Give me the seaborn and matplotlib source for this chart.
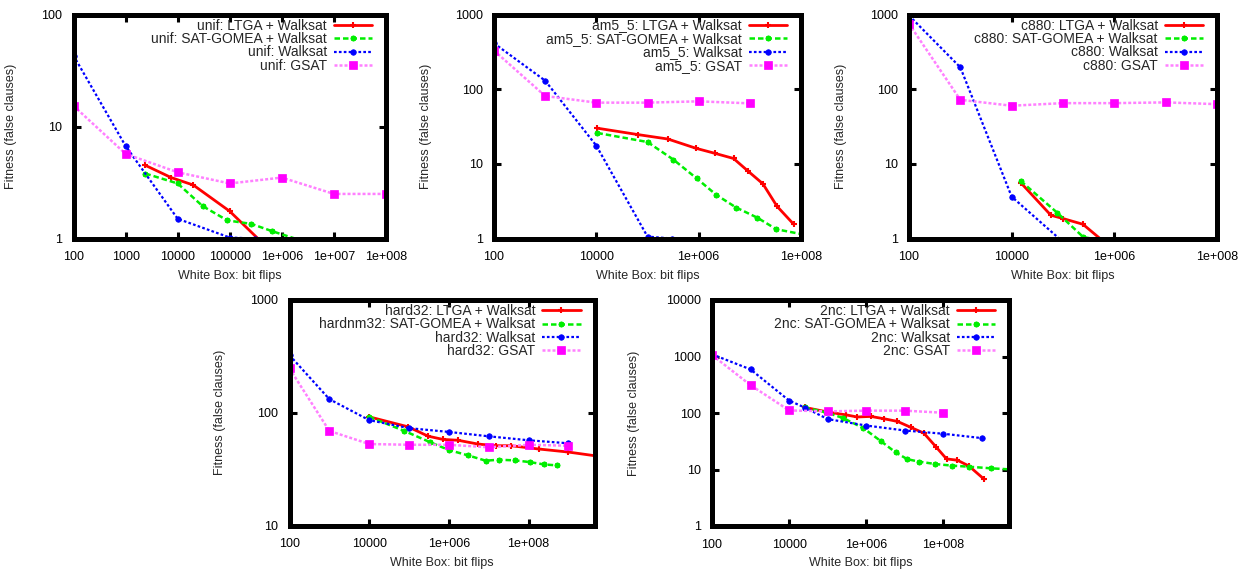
import matplotlib
matplotlib.use("Agg")
import matplotlib.pyplot as plt
import seaborn as sns
import pandas as pd
from matplotlib.ticker import FixedLocator, FixedFormatter, NullLocator

sns.set_style("white")
plt.rcParams['font.family'] = ['Liberation Sans', 'DejaVu Sans']
plt.rcParams['font.size'] = 9

# ---------------- data ----------------
# unif
unif_ltga_x = [2400, 7500, 20000, 100000, 1000000]
unif_ltga_y = [4.5, 3.5, 3.0, 1.75, 0.62]
unif_gomea_x = [2400, 10000, 30000, 90000, 260000, 660000, 2500000]
unif_gomea_y = [3.8, 3.1, 1.95, 1.45, 1.35, 1.16, 0.95]
unif_walksat_x = [100, 1000, 10000, 100000, 300000, 1000000]
unif_walksat_y = [43, 6.7, 1.5, 1.02, 1.0, 0.5]
unif_gsat_x = [100, 1000, 10000, 100000, 1e6, 1e7, 1e8]
unif_gsat_y = [15.3, 5.7, 3.9, 3.1, 3.5, 2.5, 2.5]

# am5_5
am_ltga_x = [10500, 66000, 250000, 900000, 2.1e6, 4.8e6, 9.4e6, 1.8e7, 3.4e7, 7.2e7]
am_ltga_y = [30, 24.6, 21.5, 16.1, 13.8, 11.8, 7.9, 5.4, 2.7, 1.55]
am_gomea_x = [10500, 1e5, 3.2e5, 9.1e5, 2.2e6, 5.4e6, 1.4e7, 3.3e7, 1.2e8]
am_gomea_y = [25.9, 19.6, 11.4, 6.4, 3.85, 2.6, 1.9, 1.33, 1.12]
am_walksat_x = [100, 1000, 1e4, 1e5, 3e5, 1e6]
am_walksat_y = [412, 130, 17.5, 1.06, 1.0, 0.5]
am_gsat_x = [100, 1000, 1e4, 1e5, 1e6, 1e7]
am_gsat_y = [329, 81, 66, 66, 68.7, 64.6]

# c880
c_ltga_x = [1.5e4, 5.8e4, 1e5, 2.45e5, 1e6]
c_ltga_y = [5.6, 2.05, 1.85, 1.55, 0.69]
c_gomea_x = [1.5e4, 7.8e4, 2.5e5, 1e6]
c_gomea_y = [5.9, 2.2, 1.04, 0.9]
c_walksat_x = [100, 1000, 1e4, 1e5]
c_walksat_y = [970, 196, 3.63, 0.9]
c_gsat_x = [100, 1000, 1e4, 1e5, 1e6, 1e7, 1e8]
c_gsat_y = [750, 72, 60, 65, 65, 66.5, 63]

# hard32
h_ltga_x = [1e4, 9.5e4, 3e5, 7.1e5, 1.7e6, 5.3e6, 1.5e7, 3.6e7, 1.8e8, 1e9, 1e10]
h_ltga_y = [92, 75, 62, 58, 57, 52.8, 51, 51, 47.7, 44.8, 40]
h_gomea_x = [1e4, 7.6e4, 3.3e5, 1e6, 3e6, 8.3e6, 1.85e7, 4.6e7, 1.07e8, 2.45e8, 5.3e8]
h_gomea_y = [92, 69, 55, 46.7, 41.9, 37.6, 38.3, 37.8, 36.5, 34.8, 34.1]
h_walksat_x = [100, 1000, 1e4, 1e5, 1e6, 1e7, 1e8, 1e9]
h_walksat_y = [324, 132, 86, 73, 67.6, 61.8, 57, 53.6]
h_gsat_x = [100, 1000, 1e4, 1e5, 1e6, 1e7, 1e8, 1e9]
h_gsat_y = [247, 69, 52.8, 52, 52, 49.4, 52, 51]

# 2nc
n_ltga_x = [2.5e4, 1.07e5, 2.9e5, 5.8e5, 1.3e6, 2.9e6, 6.4e6, 1.4e7, 3.1e7, 6.3e7,
            1.2e8, 2.3e8, 4.6e8, 1.14e9]
n_ltga_y = [126, 103, 93, 85, 87, 79, 71, 56, 44, 25.5, 15.4, 14.6, 11.5, 6.7]
n_gomea_x = [2.5e4, 8.8e4, 2.5e5, 8.4e5, 2.35e6, 5.8e6, 1.16e7, 2.3e7, 6.1e7, 1.7e8,
             4.6e8, 1.7e9, 6e9]
n_gomea_y = [126, 103, 81.5, 54, 32, 20, 15.2, 13.8, 12.5, 11.7, 11.2, 10.5, 10]
n_walksat_x = [100, 1000, 1e4, 2.65e4, 1e5, 1e6, 1e7, 1e8, 1e9]
n_walksat_y = [1094, 591, 166, 123, 78, 60, 49, 42.9, 35.9]
n_gsat_x = [100, 1000, 1e4, 1e5, 1e6, 1e7, 1e8]
n_gsat_y = [1063, 311, 111, 107, 110, 110, 101]

xticks_dense = [100, 1000, 10000, 100000, 1e6, 1e7, 1e8]
xlabels_dense = ["100", "1000", "10000", "100000", "1e+006", "1e+007", "1e+008"]
xticks_sparse = [100, 1e4, 1e6, 1e8]
xlabels_sparse = ["100", "10000", "1e+006", "1e+008"]
yticks_all = [1, 10, 100, 1000, 10000]
ylabels_all = ["1", "10", "100", "1000", "10000"]

# ---------------- styling ----------------
STYLES = {
    "ltga": dict(color="#ff0000", linestyle="-", linewidth=2.0, marker="+",
                 markersize=5, markeredgewidth=1.5, markeredgecolor="#ff0000"),
    "gomea": dict(color="#00ee00", linestyle=(0, (2.2, 1.2)), linewidth=1.8,
                  marker=(8, 2, 0), markersize=4, markeredgewidth=1.3,
                  markeredgecolor="#00ee00"),
    "walksat": dict(color="#0000ff", linestyle=(0, (1.2, 1.0)), linewidth=1.6,
                    marker="o", markersize=4, markeredgewidth=0.5,
                    markeredgecolor="#0000ff", markerfacecolor="#0000ff"),
    "gsat": dict(color="#ff80ff", linestyle=(0, (1.2, 0.8)), linewidth=1.8,
                 marker="s", markersize=6, markeredgewidth=0.5,
                 markeredgecolor="#ff00ff", markerfacecolor="#ff00ff"),
}

W, H = 1250, 571
fig = plt.figure(figsize=(W / 100, H / 100), dpi=100)


def rect(l, r, t, b):
    return [l / W, 1 - b / H, (r - l) / W, (b - t) / H]


panels = [
    dict(rect=rect(73.5, 386, 14.5, 238.5), xlim=(100, 1e8), ylim=(1, 100),
         xt=(xticks_dense, xlabels_dense), ylx=-56,
         series=[("unif: LTGA + Walksat", unif_ltga_x, unif_ltga_y, "ltga"),
                 ("unif: SAT-GOMEA + Walksat", unif_gomea_x, unif_gomea_y, "gomea"),
                 ("unif: Walksat", unif_walksat_x, unif_walksat_y, "walksat"),
                 ("unif: GSAT", unif_gsat_x, unif_gsat_y, "gsat")]),
    dict(rect=rect(494, 801, 14.5, 238.5), xlim=(100, 1e8), ylim=(1, 1000),
         xt=(xticks_sparse, xlabels_sparse), ylx=-62,
         series=[("am5_5: LTGA + Walksat", am_ltga_x, am_ltga_y, "ltga"),
                 ("am5_5: SAT-GOMEA + Walksat", am_gomea_x, am_gomea_y, "gomea"),
                 ("am5_5: Walksat", am_walksat_x, am_walksat_y, "walksat"),
                 ("am5_5: GSAT", am_gsat_x, am_gsat_y, "gsat")]),
    dict(rect=rect(909, 1217, 14.5, 238.5), xlim=(100, 1e8), ylim=(1, 1000),
         xt=(xticks_sparse, xlabels_sparse), ylx=-62,
         series=[("c880: LTGA + Walksat", c_ltga_x, c_ltga_y, "ltga"),
                 ("c880: SAT-GOMEA + Walksat", c_gomea_x, c_gomea_y, "gomea"),
                 ("c880: Walksat", c_walksat_x, c_walksat_y, "walksat"),
                 ("c880: GSAT", c_gsat_x, c_gsat_y, "gsat")]),
    dict(rect=rect(289.5, 594.5, 300, 525.5), xlim=(100, 4.5e9), ylim=(10, 1000),
         xt=(xticks_sparse, xlabels_sparse), ylx=-64,
         series=[("hard32: LTGA + Walksat", h_ltga_x, h_ltga_y, "ltga"),
                 ("hardnm32: SAT-GOMEA + Walksat", h_gomea_x, h_gomea_y, "gomea"),
                 ("hard32: Walksat", h_walksat_x, h_walksat_y, "walksat"),
                 ("hard32: GSAT", h_gsat_x, h_gsat_y, "gsat")]),
    dict(rect=rect(712, 1009, 300, 526), xlim=(100, 5e9), ylim=(1, 10000),
         xt=(xticks_sparse, xlabels_sparse), ylx=-72,
         series=[("2nc: LTGA + Walksat", n_ltga_x, n_ltga_y, "ltga"),
                 ("2nc: SAT-GOMEA + Walksat", n_gomea_x, n_gomea_y, "gomea"),
                 ("2nc: Walksat", n_walksat_x, n_walksat_y, "walksat"),
                 ("2nc: GSAT", n_gsat_x, n_gsat_y, "gsat")]),
]

for p in panels:
    ax = fig.add_axes(p["rect"])
    for label, xs, ys, key in p["series"]:
        df = pd.DataFrame({"x": xs, "y": ys})
        sns.lineplot(data=df, x="x", y="y", ax=ax, label=label,
                     estimator=None, errorbar=None, **STYLES[key])
    ax.set_xscale("log")
    ax.set_yscale("log")
    ax.set_xlim(*p["xlim"])
    ax.set_ylim(*p["ylim"])
    xt, xl = p["xt"]
    ax.xaxis.set_major_locator(FixedLocator(xt))
    ax.xaxis.set_major_formatter(FixedFormatter(xl))
    ax.xaxis.set_minor_locator(NullLocator())
    yt = [v for v in yticks_all if p["ylim"][0] <= v <= p["ylim"][1]]
    yl = [ylabels_all[yticks_all.index(v)] for v in yt]
    ax.yaxis.set_major_locator(FixedLocator(yt))
    ax.yaxis.set_major_formatter(FixedFormatter(yl))
    ax.yaxis.set_minor_locator(NullLocator())
    ax.tick_params(which="major", direction="in", length=5, width=2.2,
                   top=True, right=True, bottom=True, left=True,
                   labelsize=9, pad=9, colors="black")
    ax.tick_params(axis="y", pad=8)
    for s in ax.spines.values():
        s.set_linewidth(3.6)
        s.set_color("black")
        s.set_zorder(5)
    ax.set_xlabel("White Box: bit flips", fontsize=9, labelpad=5)
    ax.set_ylabel("Fitness (false clauses)", fontsize=9)
    axw = p["rect"][2] * W
    axh = p["rect"][3] * H
    ax.yaxis.set_label_coords(p["ylx"] / axw, 0.5)
    ax.legend(loc="upper right", bbox_to_anchor=(1 - 14 / axw, 1 - 4 / axh),
              markerfirst=False, frameon=False, fontsize=10,
              handlelength=2.75, handletextpad=0.5, labelspacing=-0.04,
              borderpad=0.0, borderaxespad=0.0)

fig.savefig("out.png", dpi=100)
